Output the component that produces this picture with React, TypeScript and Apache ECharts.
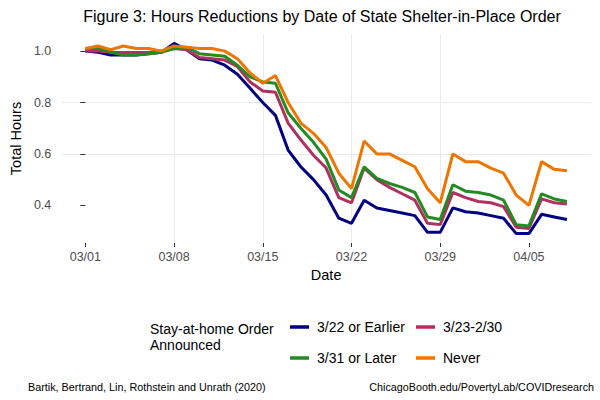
import React, { useEffect, useRef } from "react";
import * as echarts from "echarts";

const dates = [
  "03/01", "03/02", "03/03", "03/04", "03/05", "03/06", "03/07",
  "03/08", "03/09", "03/10", "03/11", "03/12", "03/13", "03/14",
  "03/15", "03/16", "03/17", "03/18", "03/19", "03/20", "03/21",
  "03/22", "03/23", "03/24", "03/25", "03/26", "03/27", "03/28",
  "03/29", "03/30", "03/31", "04/01", "04/02", "04/03", "04/04",
  "04/05", "04/06", "04/07", "04/08",
];

const xTickDates = ["03/01", "03/08", "03/15", "03/22", "03/29", "04/05"];
const yTicks = [0.4, 0.6, 0.8, 1.0];

const seriesNames = ["3/22 or Earlier", "3/23-2/30", "3/31 or Later", "Never"];
const seriesColors = ["#000080", "#B03060", "#228B22", "#EE7600"];

const earlier = [
  1.0, 0.995, 0.985, 0.985, 0.985, 0.99, 0.995, 1.03, 1.005, 0.97, 0.965, 0.945, 0.91,
  0.855, 0.8, 0.75, 0.615, 0.55, 0.5, 0.44, 0.35, 0.33, 0.42, 0.39, 0.38, 0.37, 0.36,
  0.295, 0.295, 0.39, 0.375, 0.37, 0.36, 0.35, 0.29, 0.29, 0.365, 0.355, 0.345,
];
const mid = [
  1.0, 1.0, 0.995, 0.995, 0.995, 0.995, 1.0, 1.01, 1.005, 0.975, 0.97, 0.965, 0.94,
  0.88, 0.845, 0.84, 0.72, 0.655, 0.595, 0.545, 0.43, 0.41, 0.545, 0.5, 0.47, 0.445, 0.42,
  0.33, 0.325, 0.45, 0.43, 0.415, 0.41, 0.395, 0.315, 0.31, 0.425, 0.41, 0.405,
];
const later = [
  1.01, 1.01, 0.995, 0.985, 0.985, 0.99, 0.995, 1.01, 1.015, 0.99, 0.985, 0.98, 0.945,
  0.9, 0.88, 0.875, 0.76, 0.7, 0.645, 0.58, 0.46, 0.43, 0.55, 0.505, 0.485, 0.47, 0.45,
  0.355, 0.345, 0.48, 0.455, 0.45, 0.44, 0.42, 0.325, 0.32, 0.445, 0.425, 0.415,
];
const never = [
  1.01, 1.02, 1.005, 1.02, 1.01, 1.01, 1.0, 1.02, 1.015, 1.01, 1.01, 1.0, 0.97,
  0.915, 0.875, 0.905, 0.8, 0.72, 0.68, 0.625, 0.525, 0.465, 0.65, 0.6, 0.6, 0.575, 0.55,
  0.465, 0.41, 0.6, 0.57, 0.57, 0.545, 0.525, 0.44, 0.4, 0.57, 0.54, 0.535,
];

const seriesValues = [earlier, mid, later, never];

const FONT = "Liberation Sans, Arial, sans-serif";

export default function App() {
  const ref = useRef<HTMLDivElement>(null);

  useEffect(() => {
    if (!ref.current) return;
    const chart = echarts.init(ref.current, undefined, { renderer: "svg" });
    const xTickIdx = xTickDates.map((d) => dates.indexOf(d));
    const n = dates.length;
    const pad = (n - 1) * 0.05;

    const series = seriesNames.map((name, k) => ({
      name,
      type: "line",
      data: seriesValues[k].map((v, i) => [i, v]),
      showSymbol: false,
      symbol: "none",
      lineStyle: { color: seriesColors[k], width: 3 },
      itemStyle: { color: seriesColors[k] },
      z: 2 + k,
    }));

    const legendCommon = {
      orient: "vertical",
      icon: "rect",
      itemWidth: 19,
      itemHeight: 3.5,
      itemGap: 15,
      top: 314,
      textStyle: {
        fontFamily: FONT,
        fontSize: 14,
        color: "#000",
        lineHeight: 16,
        padding: [0, 0, 0, 3],
      },
    };

    chart.setOption({
      animation: false,
      backgroundColor: "#fff",
      grid: { left: 54, right: 9, top: 34, bottom: 157, containLabel: false },
      xAxis: {
        type: "value",
        min: -pad,
        max: n - 1 + pad,
        name: "Date",
        nameLocation: "middle",
        nameGap: 24,
        nameTextStyle: { fontFamily: FONT, fontSize: 14.5, color: "#000" },
        axisLine: { show: false },
        axisTick: {
          show: true,
          length: 4,
          lineStyle: { color: "#333", width: 1 },
          customValues: xTickIdx,
        },
        axisLabel: {
          customValues: xTickIdx,
          formatter: (v: number) => dates[Math.round(v)] ?? "",
          fontFamily: FONT,
          fontSize: 12.5,
          color: "#4D4D4D",
          margin: 7,
        },
        splitLine: {
          show: true,
          showMinLine: false,
          showMaxLine: false,
          lineStyle: { color: "#EBEBEB", width: 1 },
        },
      },
      yAxis: {
        type: "value",
        min: 0.2535,
        max: 1.0665,
        name: "Total Hours",
        nameLocation: "middle",
        nameRotate: 90,
        nameGap: 38,
        nameTextStyle: { fontFamily: FONT, fontSize: 14.5, color: "#000" },
        axisLine: { show: false },
        axisTick: {
          show: true,
          length: 5,
          lineStyle: { color: "#333", width: 1 },
          customValues: yTicks,
        },
        axisLabel: {
          customValues: yTicks,
          formatter: (v: number) => v.toFixed(1),
          fontFamily: FONT,
          fontSize: 12.5,
          color: "#4D4D4D",
          margin: 10,
        },
        splitLine: {
          show: true,
          showMinLine: false,
          showMaxLine: false,
          lineStyle: { color: "#EBEBEB", width: 1 },
        },
      },
      legend: [
        { ...legendCommon, left: 285, data: [seriesNames[0], seriesNames[2]] },
        { ...legendCommon, left: 411, data: [seriesNames[1], seriesNames[3]] },
      ],
      graphic: [
        {
          type: "text",
          x: 322,
          y: 16,
          style: {
            text: "Figure 3: Hours Reductions by Date of State Shelter-in-Place Order",
            fontFamily: FONT,
            fontSize: 16,
            fill: "#000",
            align: "center",
            verticalAlign: "middle",
          },
        },
        {
          type: "text",
          x: 150,
          y: 337,
          style: {
            text: "Stay-at-home Order\nAnnounced",
            fontFamily: FONT,
            fontSize: 14,
            lineHeight: 16,
            fill: "#000",
            align: "left",
            verticalAlign: "middle",
          },
        },
        {
          type: "text",
          x: 28,
          y: 387,
          style: {
            text: "Bartik, Bertrand, Lin, Rothstein and Unrath (2020)",
            fontFamily: FONT,
            fontSize: 10.8,
            fill: "#000",
            align: "left",
            verticalAlign: "middle",
          },
        },
        {
          type: "text",
          x: 594,
          y: 387,
          style: {
            text: "ChicagoBooth.edu/PovertyLab/COVIDresearch",
            fontFamily: FONT,
            fontSize: 10.75,
            fill: "#000",
            align: "right",
            verticalAlign: "middle",
          },
        },
      ],
      series,
    });

    return () => chart.dispose();
  }, []);

  return <div ref={ref} style={{ width: 600, height: 400, position: "absolute", left: 0, top: 0 }} />;
}
